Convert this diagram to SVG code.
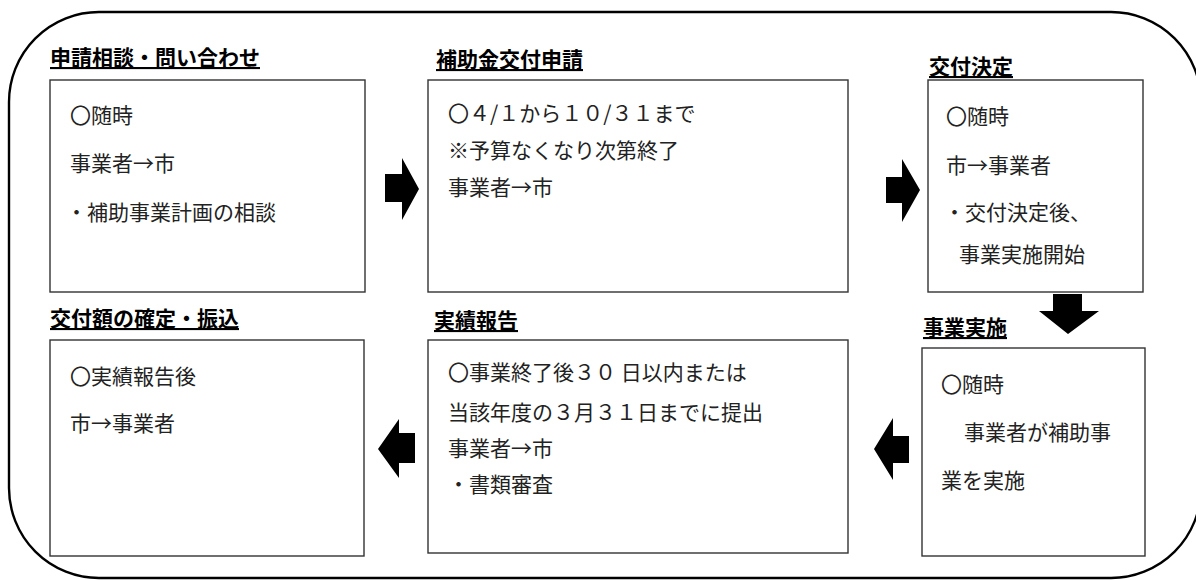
<svg xmlns="http://www.w3.org/2000/svg" width="1196" height="580" viewBox="0 0 1196 580">
<style>
.frame{fill:none;stroke:#000;stroke-width:2.4}
.box{fill:#fff;stroke:#333;stroke-width:1.4}
.title{font-family:"Noto Sans CJK JP","Noto Sans CJK SC",sans-serif;font-size:21px;font-weight:bold;fill:#000;text-decoration:underline}
.body{font-family:"Noto Sans CJK JP","Noto Sans CJK SC",sans-serif;font-size:21px;fill:#222}
.arrow{fill:#000;stroke:none}
</style>
<rect width="1196" height="580" fill="#fff"/>
<rect class="frame" x="9" y="12" width="1192" height="566" rx="90" ry="90"/>

<g id="node-consult">
<text class="title" x="50" y="65">申請相談・問い合わせ</text>
<rect class="box" x="50" y="80" width="315" height="212"/>
<text class="body" x="70" y="123">〇随時</text>
<text class="body" x="70" y="171">事業者→市</text>
<text class="body" x="66" y="220">・補助事業計画の相談</text>
</g>

<g id="node-apply">
<text class="title" x="436" y="67">補助金交付申請</text>
<rect class="box" x="428" y="80" width="420" height="212"/>
<text class="body" x="448" y="121">〇４/１から１０/３１まで</text>
<text class="body" x="448" y="158">※予算なくなり次第終了</text>
<text class="body" x="448" y="195">事業者→市</text>
</g>

<g id="node-decision">
<text class="title" x="929" y="74">交付決定</text>
<rect class="box" x="928" y="80" width="215" height="212"/>
<text class="body" x="946" y="124">〇随時</text>
<text class="body" x="946" y="173">市→事業者</text>
<text class="body" x="944" y="220">・交付決定後、</text>
<text class="body" x="959" y="262">事業実施開始</text>
</g>

<g id="node-implement">
<text class="title" x="923" y="335">事業実施</text>
<rect class="box" x="922" y="348" width="223" height="208"/>
<text class="body" x="941" y="392">〇随時</text>
<text class="body" x="964" y="440">事業者が補助事</text>
<text class="body" x="941" y="488">業を実施</text>
</g>

<g id="node-report">
<text class="title" x="434" y="328">実績報告</text>
<rect class="box" x="428" y="340" width="420" height="213"/>
<text class="body" x="448" y="380">〇事業終了後３０ 日以内または</text>
<text class="body" x="448" y="420">当該年度の３月３１日までに提出</text>
<text class="body" x="448" y="456">事業者→市</text>
<text class="body" x="448" y="492">・書類審査</text>
</g>

<g id="node-payment">
<text class="title" x="50" y="326">交付額の確定・振込</text>
<rect class="box" x="50" y="340" width="314" height="216"/>
<text class="body" x="70" y="384">〇実績報告後</text>
<text class="body" x="70" y="431">市→事業者</text>
</g>

<g id="connectors">
<polygon class="arrow" points="385,174 402,174 402,158 419,189 402,220 402,202 385,202"/>
<polygon class="arrow" points="886,177 902,177 902,159 920,190 902,222 902,203 886,203"/>
<polygon class="arrow" points="1053,294 1082,294 1082,311 1099,311 1068,334 1039,311 1053,311"/>
<polygon class="arrow" points="909,436 893,436 893,418 874,449 893,480 893,463 909,463"/>
<polygon class="arrow" points="415,433 399,433 399,419 378,449 399,478 399,463 415,463"/>
</g>
</svg>
